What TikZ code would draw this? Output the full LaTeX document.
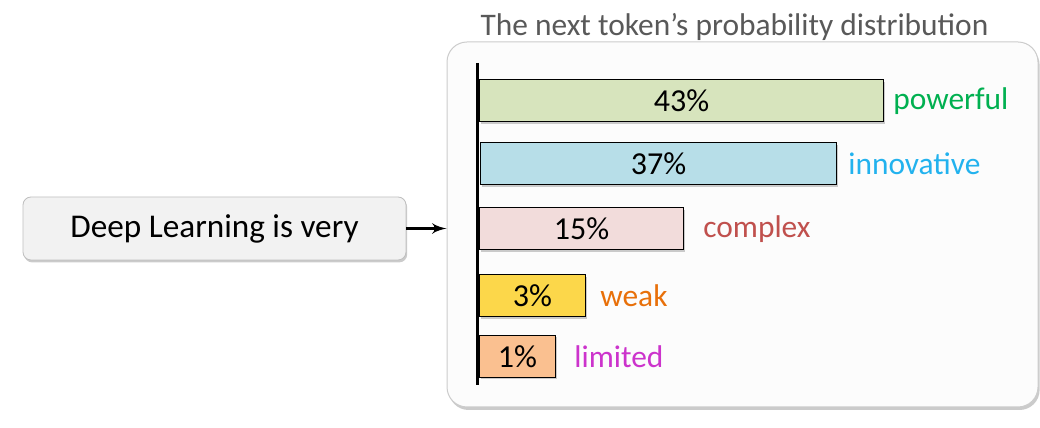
\documentclass[tikz,border=0pt]{standalone}
\usepackage{fontspec}
\setmainfont{Carlito}
\usepackage{tikz}
\definecolor{t00}{rgb}{0.00, 0.00, 0.00}
\definecolor{t01}{HTML}{595959}
\definecolor{t02}{HTML}{BFBFBF}
\definecolor{t03}{HTML}{F2F2F2}
\definecolor{t04}{HTML}{FCFCFC}
\definecolor{f01}{HTML}{D7E4BD}
\definecolor{f02}{HTML}{B7DEE8}
\definecolor{f03}{HTML}{F2DCDB}
\definecolor{f04}{HTML}{FCD74A}
\definecolor{f05}{HTML}{FAC090}
\definecolor{w01}{HTML}{00B050}
\definecolor{w02}{HTML}{22B2EE}
\definecolor{w03}{HTML}{C0504D}
\definecolor{w04}{HTML}{E8700A}
\definecolor{w05}{HTML}{CC33CC}
\usetikzlibrary{positioning}
\usetikzlibrary{shapes, arrows, shadows}
\tikzstyle{Line} = [draw, line width=1.5pt, -latex']
\tikzstyle{Axis} = [draw, line width=1.5pt, t00]
\tikzstyle{prm} = [draw=t02, rectangle, rounded corners=4pt, fill=t03,
    minimum width=191.5pt, minimum height=31.5pt, text centered,
    line width=.4pt, font=\fontsize{16.6}{19}\selectfont,
    drop shadow={shadow xshift=.6pt, shadow yshift=-1.2pt,
    fill=black!40, opacity=.5}]
\tikzstyle{pnl} = [draw=t02!80, rectangle, rounded corners=10pt, fill=t04,
    minimum width=295.5pt, minimum height=182.5pt, line width=.5pt,
    drop shadow={shadow xshift=.8pt, shadow yshift=-1.5pt,
    fill=black!40, opacity=.5}]
\tikzstyle{bar} = [draw, rectangle, anchor=west, minimum height=21pt,
    inner sep=0pt, line width=.5pt, font=\fontsize{16}{18}\selectfont,
    drop shadow={shadow xshift=.8pt, shadow yshift=-.8pt,
    fill=black!50, opacity=.4}]
\tikzstyle{wrd} = [inner sep=0pt, font=\fontsize{15.7}{18}\selectfont]

\begin{document}
\begin{tikzpicture}[x=1pt, y=1pt]
     % ><>< =================== ><>< %
     % ><><     Place nodes     ><>< %
     % ><>< =================== ><>< %
     \useasboundingbox [fill=white] (0,0) rectangle (520,214);
     % ><>< =================== ><>< %
     \node [prm] (prompt) at (107.25,99.75) {Deep Learning is very};
     \node [pnl] (panel) at (371.25,101.75) {};
     \node [wrd, t01, above=.5pt of panel, xshift=-4pt] (title)
        {The next token’s probability distribution};
     \coordinate (axtop) at (238.5,182.5);
     \coordinate (axbot) at (238.5,21.5);
     \node [bar, fill=f01, minimum width=202pt] (bar1) at (239.5,163.5) {43\%};
     \node [bar, fill=f02, minimum width=178pt] (bar2) at (240,132) {37\%};
     \node [bar, fill=f03, minimum width=102pt] (bar3) at (239.5,99.5) {15\%};
     \node [bar, fill=f04, minimum width=53pt] (bar4) at (239.5,66) {3\%};
     \node [bar, fill=f05, minimum width=38pt] (bar5) at (239.5,35.75) {1\%};
     \node [wrd, w01, right=4.5pt of bar1] (word1) {powerful};
     \node [wrd, w02, right=5.5pt of bar2] (word2) {innovative};
     \node [wrd, w03, right=9.5pt of bar3] (word3) {complex};
     \node [wrd, w04, right=7pt of bar4] (word4) {weak};
     \node [wrd, w05, right=9pt of bar5] (word5) {limited};
     % ><>< =================== ><>< %
     % ><><     Draw lines.     ><>< %
     % ><>< =================== ><>< %
     \path [Axis] (axtop) -- (axbot);
     \path [Line] (prompt.east) -- (prompt.east -| panel.west);
  \end{tikzpicture}
\end{document}
